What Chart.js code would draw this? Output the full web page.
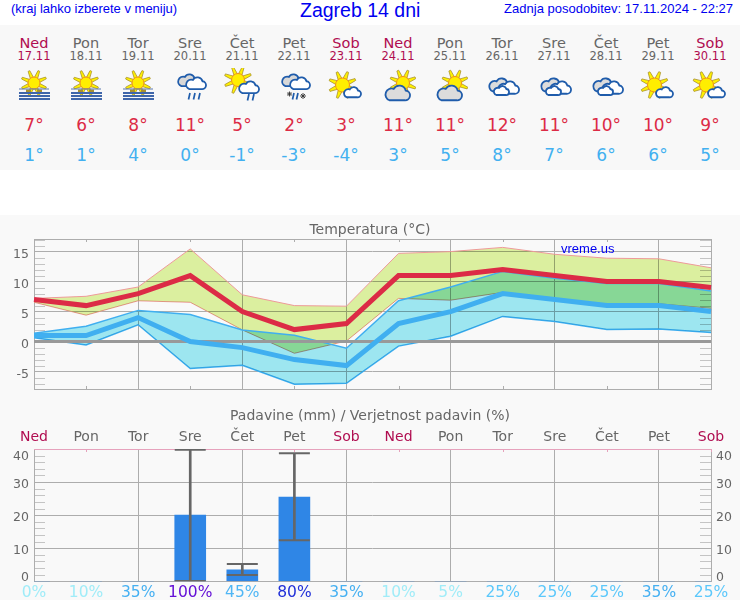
<!DOCTYPE html>
<html>
<head>
<meta charset="utf-8">
<title>Zagreb 14 dni</title>
<script src="https://cdn.jsdelivr.net/npm/chart.js@4"></script>
<style>
    html, body { margin: 0; padding: 0; background: #fff; }
    body { position: relative; width: 740px; height: 600px; overflow: hidden; }
    .top { position: absolute; color: #0000f0; font-family: "Liberation Sans", sans-serif; white-space: nowrap; }
    #panel { position: absolute; left: 0; top: 25px; width: 740px; height: 145px; background: #f8f8f8; }
    #lower { position: absolute; left: 0; top: 215px; width: 740px; height: 385px; background: #f9f9f9; }
    canvas { position: absolute; left: 0; }
    .cell { position: absolute; width: 52px; text-align: center; font-family: "DejaVu Sans", sans-serif; white-space: nowrap; }
    .icon { position: absolute; width: 36px; height: 36px; top: 68px; }
</style>
</head>
<body>
<div class="top" style="left:11px;top:1px;font-size:13px">(kraj lahko izberete v meniju)</div>
<div class="top" style="left:300px;top:-1px;font-size:19.5px">Zagreb 14 dni</div>
<div class="top" style="right:7px;top:1px;font-size:13px">Zadnja posodobitev: 17.11.2024 - 22:27</div>
<div id="panel"></div>
<div id="lower"></div>
<div id="cells"></div>
<canvas id="tempChart" width="740" height="190" style="top:215px"></canvas>
<canvas id="rainChart" width="740" height="195" style="top:405px"></canvas>
<div class="top" style="left:561px;top:241px;font-size:13px">vreme.us</div>

<script>
// Days and dates
var days = ['Ned', 'Pon', 'Tor', 'Sre', 'Čet', 'Pet', 'Sob', 'Ned', 'Pon', 'Tor', 'Sre', 'Čet', 'Pet', 'Sob'];
var dates = ['17.11', '18.11', '19.11', '20.11', '21.11', '22.11', '23.11', '24.11', '25.11', '26.11', '27.11', '28.11', '29.11', '30.11'];
var icons = ['haze', 'haze', 'haze', 'rain', 'sunrain', 'sleet', 'suncloud', 'cloudsun', 'cloudsun', 'clouds', 'clouds', 'clouds', 'suncloud', 'suncloud'];

// Temperature series
var maxTemps = [7, 6, 8, 11, 5, 2, 3, 11, 11, 12, 11, 10, 10, 9];
var minTemps = [1, 1, 4, 0, -1, -3, -4, 3, 5, 8, 7, 6, 6, 5];
var maxBandTop = [7.2, 7.55, 9.1, 15.45, 7.8, 6.0, 5.9, 14.7, 15.0, 15.7, 14.55, 13.9, 13.8, 12.3];
var maxBandBottom = [6.55, 4.4, 6.8, 6.55, 1.95, -1.95, 0.1, 7.2, 6.9, 8.2, 6.8, 6.1, 6.3, 5.55];
var minBandTop = [1.4, 2.55, 5.2, 4.5, 1.95, 1.05, -1.1, 6.8, 9.1, 11.7, 10.55, 9.7, 9.7, 8.45];
var minBandBottom = [0.65, -0.55, 2.8, -4.5, -3.95, -7.1, -6.95, -0.75, 0.9, 4.2, 3.35, 2.0, 2.1, 1.5];
var zeroLine = [0, 0, 0, 0, 0, 0, 0, 0, 0, 0, 0, 0, 0, 0];
var tempTicks = [-5, 0, 5, 10, 15];
var tempMinorTicks = [-7, -6, -4, -3, -2, -1, 1, 2, 3, 4, 6, 7, 8, 9, 11, 12, 13, 14, 16, 17];

// Precipitation series
var rainValues = [0, 0, 0, 20, 3.5, 25.5, 0, 0, 0, 0, 0, 0, 0, 0];
var rainHigh = [null, null, null, 39.8, 5.2, 38.7, null, null, null, null, null, null, null, null];
var rainLow = [null, null, null, 0.1, 1.9, 12.4, null, null, null, null, null, null, null, null];
var rainChance = [0, 10, 35, 100, 45, 80, 35, 10, 5, 25, 25, 25, 35, 25];
var rainTicks = [0, 10, 20, 30, 40];
var rainMinorTicks = [2, 4, 6, 8, 12, 14, 16, 18, 22, 24, 26, 28, 32, 34, 36, 38];

function isWeekend(day) {
    return day === 'Ned' || day === 'Sob';
}

function dayColor(day) {
    return isWeekend(day) ? '#b00d50' : '#666666';
}

// Colour of the probability labels goes from pale cyan up to purple
function chanceColor(value) {
    if (value >= 100) return '#6410d6';
    if (value >= 80) return '#2030d8';
    if (value >= 45) return '#4fb6f5';
    if (value >= 35) return '#45b0f2';
    if (value >= 25) return '#5cc8fb';
    return '#a0ecf8';
}

// Weather icons
function sun(cx, cy, r, R) {
    var s = '';
    for (var i = 0; i < 8; i++) {
        var a = (i * 45 + 22) * Math.PI / 180;
        var b = 0.36;
        s += '<polygon points="' +
            (cx + (r - 1) * Math.cos(a - b)).toFixed(1) + ',' + (cy + (r - 1) * Math.sin(a - b)).toFixed(1) + ' ' +
            (cx + R * Math.cos(a - 0.07)).toFixed(1) + ',' + (cy + R * Math.sin(a - 0.07)).toFixed(1) + ' ' +
            (cx + R * Math.cos(a + 0.07)).toFixed(1) + ',' + (cy + R * Math.sin(a + 0.07)).toFixed(1) + ' ' +
            (cx + (r - 1) * Math.cos(a + b)).toFixed(1) + ',' + (cy + (r - 1) * Math.sin(a + b)).toFixed(1) +
            '" fill="#fff200" stroke="#a89030" stroke-width="0.8"/>';
    }
    s += '<circle cx="' + cx + '" cy="' + cy + '" r="' + r + '" fill="#ffee00" stroke="#f09020" stroke-width="1"/>';
    return s;
}

function cloud(x, y, w, fill) {
    var k = w / 24;
    return '<path transform="translate(' + x + ' ' + y + ') scale(' + k + ')" d="M5 15 H19 A4.5 4.5 0 0 0 20 6 A6 6 0 0 0 9 4.5 A5.3 5.3 0 0 0 5 15 Z" fill="' + fill + '" stroke="#1f5cab" stroke-width="' + (1.8 / k).toFixed(2) + '"/>';
}

function drops(list) {
    var s = '';
    list.forEach(function (p) {
        s += '<line x1="' + p[0] + '" y1="' + p[1] + '" x2="' + (p[0] - 1.5) + '" y2="' + (p[1] + 6.5) + '" stroke="#1f5cab" stroke-width="1.7"/>';
    });
    return s;
}

function iconSvg(kind) {
    var s = '';
    if (kind === 'haze') {
        s += sun(18, 15, 6, 13);
        s += '<rect x="10" y="21.5" width="5" height="3" fill="#a89030"/><rect x="21" y="21.5" width="5" height="3" fill="#a89030"/>';
        s += '<rect x="3" y="20.5" width="30" height="1" fill="#5a78b0"/>';
        s += '<rect x="3" y="24" width="31" height="2" fill="#3f66aa"/><rect x="3" y="27" width="31" height="2" fill="#3f66aa"/><rect x="3" y="30" width="31" height="2" fill="#3f66aa"/>';
    } else if (kind === 'rain') {
        s += cloud(5, 5, 21, '#d8d8d8');
        s += cloud(13, 8, 21, '#ffffff');
        s += drops([[18, 25], [23, 25], [28, 25]]);
    } else if (kind === 'sleet') {
        s += cloud(5, 5, 21, '#d8d8d8');
        s += cloud(13, 8, 21, '#ffffff');
        s += drops([[18, 25], [22, 25]]);
        s += '<path d="M11 26 h5 M13.5 23.5 v5 M11.7 24.2 l3.6 3.6 M15.3 24.2 l-3.6 3.6 M24 28 h6 M27 25 v6 M25 26 l4 4 M29 26 l-4 4" stroke="#333" stroke-width="0.9" fill="none"/>';
    } else if (kind === 'sunrain') {
        s += sun(14, 12, 6.5, 14);
        s += cloud(14, 12, 21, '#ffffff');
        s += drops([[25, 26], [30, 26]]);
    } else if (kind === 'suncloud') {
        s += sun(14.5, 17, 7, 14);
        s += cloud(15, 18, 18, '#ffffff');
    } else if (kind === 'cloudsun') {
        s += sun(23, 15, 6.5, 13.5);
        s += cloud(4, 16, 26, '#dcdcdc');
    } else {
        s += cloud(4, 9, 23, '#dcdcdc');
        s += cloud(13, 12, 22, '#ffffff');
        s += cloud(9, 17, 16, '#ffffff');
    }
    return '<svg xmlns="http://www.w3.org/2000/svg" width="36" height="36" viewBox="0 0 36 36">' + s + '</svg>';
}

// Forecast table above the charts
var cellsEl = document.getElementById('cells');
var cellHtml = '';
for (var i = 0; i < days.length; i++) {
    var cx = 34 + 52 * i;
    var cl = cx - 26;
    var c = dayColor(days[i]);
    cellHtml += '<div class="cell" style="left:' + cl + 'px;top:35px;font-size:14.5px;color:' + c + '">' + days[i] + '</div>';
    cellHtml += '<div class="cell" style="left:' + cl + 'px;top:49px;font-size:11.5px;color:' + c + '">' + dates[i] + '</div>';
    cellHtml += '<div class="icon" style="left:' + (cx - 18) + 'px">' + iconSvg(icons[i]) + '</div>';
    cellHtml += '<div class="cell" style="left:' + cl + 'px;top:115px;font-size:17px;color:#dc2b46">' + maxTemps[i] + '°</div>';
    cellHtml += '<div class="cell" style="left:' + cl + 'px;top:145px;font-size:17px;color:#42b0f0">' + minTemps[i] + '°</div>';
}
cellsEl.innerHTML = cellHtml;

var axisFont = { family: 'DejaVu Sans', size: 12.5 };
var gridColor = '#adadad';

// Frame of the plot, short x marks and the small y marks on both sides
var frameMarks = {
    id: 'frameMarks',
    beforeDatasetsDraw: function (chart, args, opts) {
        var ctx = chart.ctx, area = chart.chartArea, xs = chart.scales.x, ys = chart.scales.y;
        ctx.save();
        ctx.lineWidth = 1;
        ctx.strokeStyle = '#c4c4c4';
        opts.minor.forEach(function (v) {
            var y = Math.round(ys.getPixelForValue(v)) + 0.5;
            ctx.beginPath();
            ctx.moveTo(area.left, y);
            ctx.lineTo(area.left + 11, y);
            ctx.moveTo(area.right - 11, y);
            ctx.lineTo(area.right, y);
            ctx.stroke();
        });
        ctx.strokeStyle = gridColor;
        ctx.strokeRect(Math.round(area.left) + 0.5, Math.round(area.top) + 0.5, Math.round(area.width), Math.round(area.height));
        ctx.strokeStyle = opts.topColor;
        ctx.beginPath();
        ctx.moveTo(area.left, Math.round(area.top) + 0.5);
        ctx.lineTo(area.right, Math.round(area.top) + 0.5);
        ctx.stroke();
        for (var i = 1; i < days.length; i += 2) {
            var x = Math.round(xs.getPixelForValue(i)) + 0.5;
            ctx.beginPath();
            ctx.moveTo(x, area.top);
            ctx.lineTo(x, area.top + 3);
            ctx.stroke();
            if (opts.bottomMarks) {
                ctx.beginPath();
                ctx.moveTo(x, area.bottom);
                ctx.lineTo(x, area.bottom - 3);
                ctx.stroke();
            }
        }
        ctx.restore();
    },
    // the labels of the reference sit slightly below their grid line and stay inside the plot
    afterUpdate: function (chart) {
        ['y', 'y2'].forEach(function (id) {
            var scale = chart.scales[id];
            if (!scale) return;
            scale.getLabelItems().forEach(function (item) {
                var y = item.options.translation[1] + 3;
                y = Math.max(y, chart.chartArea.top + 8);
                y = Math.min(y, chart.chartArea.bottom - 4);
                item.options.translation[1] = y;
            });
        });
    }
};

// Fills of the two bands are multiplied so that their overlap goes green
var bandBlend = {
    id: 'bandBlend',
    beforeDatasetsDraw: function (chart) {
        chart.ctx.globalCompositeOperation = 'multiply';
    },
    beforeDatasetDraw: function (chart) {
        chart.ctx.globalCompositeOperation = 'source-over';
    },
    afterDatasetDraw: function (chart, args) {
        chart.ctx.globalCompositeOperation = args.index > 3 ? 'multiply' : 'source-over';
    },
    afterDatasetsDraw: function (chart) {
        chart.ctx.globalCompositeOperation = 'source-over';
    }
};

function lineSet(data, color, width, fillColor) {
    return {
        data: data,
        borderColor: color,
        borderWidth: width,
        pointRadius: 0,
        tension: 0,
        fill: fillColor ? '+1' : false,
        backgroundColor: fillColor || 'transparent'
    };
}

var ctxTemp = document.getElementById('tempChart').getContext('2d');
new Chart(ctxTemp, {
    type: 'line',
    data: {
        labels: days,
        // first dataset is drawn last
        datasets: [
            lineSet(maxTemps, '#dc2b46', 5),
            lineSet(minTemps, '#40aff0', 5),
            lineSet(zeroLine, '#999999', 3),
            lineSet(minBandTop, '#40aff0', 1.5, '#9de6f0'),
            lineSet(minBandBottom, '#40aff0', 1.5),
            lineSet(maxBandTop, '#ee9a9a', 1, '#dbef9f'),
            lineSet(maxBandBottom, '#ee9a9a', 1)
        ]
    },
    plugins: [frameMarks, bandBlend],
    options: {
        responsive: false,
        animation: false,
        layout: { padding: { left: 0, right: 0, top: 0, bottom: 16 } },
        plugins: {
            legend: { display: false },
            tooltip: { enabled: false },
            title: {
                display: true,
                text: 'Temperatura (°C)',
                color: '#666666',
                font: { family: 'DejaVu Sans', size: 14, weight: 'normal' },
                padding: { top: 6.6, bottom: 0.6 }
            },
            frameMarks: { minor: tempMinorTicks, topColor: gridColor, bottomMarks: true }
        },
        scales: {
            x: {
                ticks: { display: false },
                border: { display: false },
                grid: {
                    drawTicks: false,
                    color: function (c) { return c.index % 2 === 0 ? gridColor : 'transparent'; }
                },
                afterFit: function (s) { s.height = 0; }
            },
            y: {
                min: -7.9,
                max: 17.1,
                border: { display: false },
                grid: { drawTicks: false, color: gridColor },
                ticks: { color: '#666666', font: axisFont, padding: 5 },
                afterBuildTicks: function (s) { s.ticks = tempTicks.map(function (v) { return { value: v }; }); },
                afterFit: function (s) { s.width = 34; }
            },
            // empty right axis, same width as in the chart below
            y2: {
                position: 'right',
                min: -7.9,
                max: 17.1,
                border: { display: false },
                grid: { display: false, drawTicks: false },
                ticks: { display: false },
                afterFit: function (s) { s.width = 29; }
            }
        }
    }
});

function rainCap(data) {
    return {
        type: 'line',
        data: data,
        showLine: false,
        pointStyle: 'line',
        pointRadius: 15.5,
        pointBorderColor: '#666666',
        pointBorderWidth: 2,
        xAxisID: 'x',
        yAxisID: 'y'
    };
}

// Stem of each whisker is a thin floating bar
var rainStems = rainLow.map(function (v, i) { return v === null ? null : [v, rainHigh[i]]; });

var ctxRain = document.getElementById('rainChart').getContext('2d');
new Chart(ctxRain, {
    type: 'bar',
    data: {
        labels: days,
        datasets: [
            rainCap(rainHigh),
            rainCap(rainLow),
            { data: rainStems, backgroundColor: '#666666', barThickness: 2, grouped: false, xAxisID: 'x', yAxisID: 'y' },
            { data: rainValues, backgroundColor: '#2f86e6', barThickness: 31, grouped: false, xAxisID: 'x', yAxisID: 'y' }
        ]
    },
    plugins: [frameMarks],
    options: {
        responsive: false,
        animation: false,
        layout: { padding: 0 },
        plugins: {
            legend: { display: false },
            tooltip: { enabled: false },
            title: {
                display: true,
                text: 'Padavine (mm) / Verjetnost padavin (%)',
                color: '#666666',
                font: { family: 'DejaVu Sans', size: 14, weight: 'normal' },
                padding: { top: 2.6, bottom: 1 }
            },
            frameMarks: { minor: rainMinorTicks, topColor: '#e6a2bc', bottomMarks: false }
        },
        scales: {
            x: {
                position: 'top',
                offset: false,
                border: { display: false },
                grid: {
                    offset: false,
                    drawTicks: false,
                    color: function (c) { return c.index % 2 === 0 ? gridColor : 'transparent'; }
                },
                ticks: {
                    autoSkip: false,
                    maxRotation: 0,
                    padding: 3,
                    font: { family: 'DejaVu Sans', size: 14 },
                    color: function (c) { return dayColor(days[c.index]); }
                },
                afterFit: function (s) { s.height = 23.6; }
            },
            chance: {
                type: 'category',
                position: 'bottom',
                offset: false,
                labels: rainChance.map(function (v) { return v + '%'; }),
                border: { display: false },
                grid: { display: false, drawTicks: false },
                ticks: {
                    autoSkip: false,
                    maxRotation: 0,
                    padding: 2,
                    font: { family: 'DejaVu Sans', size: 15.5 },
                    color: function (c) { return chanceColor(rainChance[c.index]); }
                },
                afterFit: function (s) { s.height = 18.7; }
            },
            y: {
                min: 0,
                max: 40,
                border: { display: false },
                grid: { drawTicks: false, color: gridColor },
                ticks: { color: '#666666', font: axisFont, padding: 5 },
                afterBuildTicks: function (s) { s.ticks = rainTicks.map(function (v) { return { value: v }; }); },
                afterFit: function (s) { s.width = 34; }
            },
            y2: {
                position: 'right',
                min: 0,
                max: 40,
                border: { display: false },
                grid: { display: false, drawTicks: false },
                ticks: { color: '#666666', font: axisFont, padding: 5 },
                afterBuildTicks: function (s) { s.ticks = rainTicks.map(function (v) { return { value: v }; }); },
                afterFit: function (s) { s.width = 29; }
            }
        }
    }
});
</script>
</body>
</html>
